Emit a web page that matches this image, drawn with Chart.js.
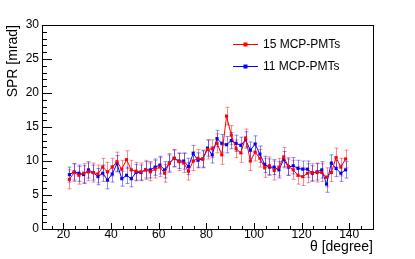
<!DOCTYPE html>
<html>
<head>
<meta charset="utf-8">
<script src="https://cdn.jsdelivr.net/npm/chart.js@4/dist/chart.umd.min.js"></script>
<style>
  html, body { margin: 0; padding: 0; background: #fff; }
</style>
</head>
<body>
<canvas id="sprChart" width="415" height="259"></canvas>
<script>
// polar angle of each point [degree]
const thetaDeg = [22.5, 24.5, 26.5, 28.5, 30.5, 32.5, 34.5, 36.5, 38.5, 40.5,
  42.5, 44.5, 46.5, 48.5, 50.5, 52.5, 54.5, 56.5, 58.5, 60.5,
  62.5, 64.5, 66.5, 68.5, 70.5, 72.5, 74.5, 76.5, 78.5, 80.5,
  82.5, 84.5, 86.5, 88.5, 90.5, 92.5, 94.5, 96.5, 98.5, 100.5,
  102.5, 104.5, 106.5, 108.5, 110.5, 112.5, 114.5, 116.5, 118.5, 120.5,
  122.5, 124.5, 126.5, 128.5, 130.5, 132.5, 134.5, 136.5, 138.5];

// 15 MCP-PMTs
const spr15 = [7.3, 8.3, 7.9, 8.2, 8.4, 8.3, 8.1, 9.1, 8.4, 9.1,
  9.9, 8.8, 10.2, 8.7, 8.5, 8.4, 8.7, 8.4, 8.8, 9.1,
  8.2, 9.7, 10.4, 9.9, 9.7, 8.5, 10.0, 10.4, 10.3, 11.7,
  11.8, 12.6, 10.9, 16.6, 13.8, 11.8, 11.2, 13.4, 10.0, 11.3,
  10.4, 9.0, 9.3, 8.6, 9.1, 10.6, 9.2, 8.7, 7.9, 7.7,
  8.2, 8.3, 8.3, 8.3, 7.6, 8.3, 10.5, 9.1, 10.3];
const err15 = [1.4, 1.3, 1.3, 1.4, 1.3, 1.4, 1.3, 1.3, 1.4, 1.3,
  1.4, 1.3, 1.3, 1.4, 1.3, 1.3, 1.4, 1.3, 1.3, 1.4,
  1.3, 1.4, 1.3, 1.3, 1.4, 1.3, 1.4, 1.3, 1.3, 1.4,
  1.3, 1.4, 1.4, 1.3, 1.4, 1.3, 1.4, 1.3, 1.4, 1.3,
  1.3, 1.4, 1.3, 1.4, 1.3, 1.4, 1.3, 1.4, 1.3, 1.3,
  1.4, 1.3, 1.4, 1.3, 1.4, 1.3, 1.4, 1.3, 1.3];

// 11 MCP-PMTs
const spr11 = [8.0, 8.4, 8.2, 8.0, 8.7, 8.3, 7.7, 8.2, 7.2, 8.1,
  9.6, 7.4, 7.9, 7.4, 8.3, 8.3, 8.7, 8.7, 9.1, 9.4,
  8.7, 9.7, 10.4, 10.0, 10.0, 9.2, 11.1, 10.1, 10.3, 11.9,
  10.9, 13.3, 12.6, 12.4, 13.0, 12.6, 12.3, 13.1, 11.6, 12.5,
  11.0, 9.5, 9.1, 9.1, 8.7, 10.2, 9.1, 9.3, 8.9, 8.8,
  8.8, 8.2, 8.4, 8.7, 6.6, 9.7, 8.9, 8.2, 8.7];
const err11 = [1.1, 1.2, 1.2, 1.3, 1.2, 1.1, 1.2, 1.2, 1.3, 1.2,
  1.2, 1.1, 1.2, 1.2, 1.2, 1.1, 1.2, 1.2, 1.2, 1.3,
  1.2, 1.2, 1.2, 1.1, 1.2, 1.2, 1.2, 1.1, 1.2, 1.2,
  1.2, 1.2, 1.3, 1.2, 1.2, 1.2, 1.2, 1.2, 1.2, 1.2,
  1.2, 1.2, 1.2, 1.1, 1.2, 1.2, 1.2, 1.2, 1.2, 1.2,
  1.2, 1.1, 1.2, 1.2, 1.2, 1.2, 1.2, 1.2, 1.2];

const xTicks = [20, 40, 60, 80, 100, 120, 140];
const yTicks = [0, 5, 10, 15, 20, 25, 30];

const toPoints = (vals) => vals.map((v, i) => ({ x: thetaDeg[i], y: v }));
const FONT = '"Liberation Sans", Arial, Helvetica, sans-serif';

// ROOT-like frame, inward ticks, titles, legend, error bars
const rootStyle = {
  id: 'rootStyle',
  beforeDatasetsDraw(chart) {
    const { ctx, scales: { x, y } } = chart;
    chart.data.datasets.forEach((ds) => {
      ctx.save();
      ctx.strokeStyle = ds.errColor;
      ctx.lineWidth = 1;
      ds.data.forEach((p, i) => {
        const px = Math.round(x.getPixelForValue(p.x)) + 0.5;
        const lo = y.getPixelForValue(p.y - ds.errors[i]);
        const hi = y.getPixelForValue(p.y + ds.errors[i]);
        ctx.beginPath();
        ctx.moveTo(px, lo); ctx.lineTo(px, hi);
        ctx.moveTo(px - 2, lo); ctx.lineTo(px + 2, lo);
        ctx.moveTo(px - 2, hi); ctx.lineTo(px + 2, hi);
        ctx.stroke();
      });
      ctx.restore();
    });
  },
  afterDraw(chart) {
    const { ctx, chartArea: a, scales: { x, y } } = chart;
    ctx.save();
    ctx.strokeStyle = '#000';
    ctx.lineWidth = 1;
    ctx.strokeRect(Math.round(a.left) + 0.5, Math.round(a.top) + 0.5,
      Math.round(a.right - a.left), Math.round(a.bottom - a.top));

    // y ticks: major every 5, minor every 1
    ctx.beginPath();
    for (let v = 0; v <= 30; v++) {
      const py = Math.round(y.getPixelForValue(v)) + 0.5;
      const len = v % 5 === 0 ? 10 : 5;
      ctx.moveTo(a.left, py); ctx.lineTo(a.left + len, py);
    }
    // x ticks: major every 20, minor every 5
    for (let v = 15; v <= 150; v += 5) {
      const px = Math.round(x.getPixelForValue(v)) + 0.5;
      const len = v % 20 === 0 ? 6 : 3;
      ctx.moveTo(px, a.bottom); ctx.lineTo(px, a.bottom - len);
    }
    ctx.stroke();

    // axis titles
    ctx.fillStyle = '#000';
    ctx.font = '14px ' + FONT;
    ctx.textAlign = 'right';
    ctx.textBaseline = 'middle';
    ctx.fillText('θ [degree]', a.right, 247);
    ctx.save();
    ctx.translate(13, a.top);
    ctx.rotate(-Math.PI / 2);
    ctx.fillText('SPR [mrad]', 0, 0);
    ctx.restore();

    // legend
    ctx.font = '12px ' + FONT;
    ctx.textAlign = 'left';
    chart.data.datasets.forEach((ds, k) => {
      const ly = 44.5 + k * 22;
      ctx.strokeStyle = ds.borderColor;
      ctx.beginPath();
      ctx.moveTo(233, ly); ctx.lineTo(258, ly);
      ctx.stroke();
      ctx.fillStyle = ds.borderColor;
      ctx.fillRect(243.5, ly - 2, 4, 4);
      ctx.fillStyle = '#000';
      ctx.fillText(ds.label, 263, ly);
    });
    ctx.restore();
  }
};

new Chart(document.getElementById('sprChart'), {
  type: 'line',
  data: {
    datasets: [
      {
        label: '15 MCP-PMTs',
        data: toPoints(spr15),
        errors: err15,
        errColor: 'rgba(255, 0, 0, 0.45)',
        borderColor: '#ff0000',
        backgroundColor: '#ff0000',
        borderWidth: 1,
        pointStyle: 'rect',
        pointRadius: 2.2,
        pointBorderWidth: 0,
        tension: 0
      },
      {
        label: '11 MCP-PMTs',
        data: toPoints(spr11),
        errors: err11,
        errColor: 'rgba(0, 0, 255, 0.45)',
        borderColor: '#0000ff',
        backgroundColor: '#0000ff',
        borderWidth: 1,
        pointStyle: 'rect',
        pointRadius: 2.2,
        pointBorderWidth: 0,
        tension: 0
      }
    ]
  },
  options: {
    responsive: false,
    animation: false,
    devicePixelRatio: 1,
    layout: { padding: { left: 0, top: 25, right: 42, bottom: 0 } },
    plugins: { legend: { display: false }, tooltip: { enabled: false } },
    scales: {
      x: {
        type: 'linear',
        min: 11,
        max: 150,
        grid: { display: false, drawTicks: false },
        border: { display: false },
        afterBuildTicks: (s) => { s.ticks = xTicks.map((v) => ({ value: v })); },
        afterFit: (s) => { s.height = 30; },
        ticks: { color: '#000', font: { family: FONT, size: 12 }, padding: -2, maxRotation: 0 }
      },
      y: {
        min: 0,
        max: 30,
        grid: { display: false, drawTicks: false },
        border: { display: false },
        afterBuildTicks: (s) => { s.ticks = yTicks.map((v) => ({ value: v })); },
        afterFit: (s) => { s.width = 42; },
        ticks: { color: '#000', font: { family: FONT, size: 12 }, padding: 3 }
      }
    }
  },
  plugins: [rootStyle]
});
</script>
</body>
</html>
